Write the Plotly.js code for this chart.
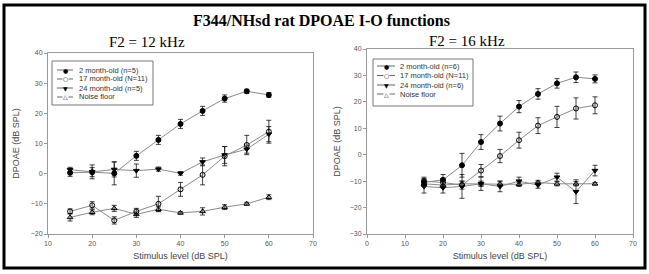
<!DOCTYPE html>
<html>
<head>
<meta charset="utf-8">
<script src="https://cdn.plot.ly/plotly-3.0.1.min.js"></script>
<style>html,body{margin:0;padding:0;background:#fff;}#chart{width:649px;height:274px;}</style>
</head>
<body>
<div id="chart"></div>
<script>
// ---------- DATA ----------
const levels = [15, 20, 25, 30, 35, 40, 45, 50, 55, 60];

// F2 = 12 kHz
const m2_12      = [0.3, 0.5, 0.1, 5.9, 11.2, 16.5, 20.8, 24.9, 27.3, 26.1];
const m2_12_err  = [1.2, 1.5, 3.8, 1.5, 1.5, 1.5, 1.5, 1.2, 0.7, 0.8];
const m17_12     = [-12.5, -10.5, -15.5, -12.5, -10.0, -5.2, -0.4, 5.8, 9.5, 13.9];
const m17_12_err = [0.8, 1.2, 1.2, 1.0, 2.5, 2.3, 3.3, 3.2, 3.2, 3.8];
const m24_12     = [1.3, 0.6, 1.4, 1.0, 1.5, 0.1, 3.9, 6.2, 8.1, 13.1];
const m24_12_err = [0.8, 2.3, 2.5, 2.2, 0.7, 0.6, 1.3, 2.8, 1.3, 2.5];
const nf_12      = [-14.5, -12.8, -11.5, -13.5, -11.8, -13.0, -12.5, -11.1, -10.0, -7.8];
const nf_12_err  = [1.2, 0.8, 1.0, 1.0, 0.8, 0.4, 1.2, 0.8, 0.5, 0.8];

// F2 = 16 kHz
const m2_16      = [-10.5, -9.5, -4.0, 4.8, 11.8, 18.2, 23.0, 27.0, 29.3, 28.7];
const m2_16_err  = [1.5, 2.0, 4.5, 2.8, 2.8, 2.3, 2.0, 1.8, 2.0, 1.5];
const m17_16     = [-10.0, -10.5, -11.5, -6.0, -0.5, 5.5, 11.0, 14.3, 17.5, 18.7];
const m17_16_err = [1.5, 1.5, 1.5, 2.3, 2.5, 3.0, 3.0, 4.0, 4.0, 3.2];
const m24_16     = [-12.0, -12.5, -12.0, -11.0, -12.0, -10.0, -11.5, -8.5, -14.0, -6.0];
const m24_16_err = [2.5, 2.0, 4.5, 2.5, 2.0, 1.5, 1.2, 1.5, 4.5, 2.0];
const nf_16      = [-11.0, -11.5, -11.0, -11.0, -11.0, -11.2, -10.5, -11.0, -11.0, -11.0];
const nf_16_err  = [1.0, 1.0, 1.0, 1.0, 1.0, 0.8, 0.8, 0.8, 0.8, 0.5];

const legend12 = ["2 month-old (n=5)", "17 month-old (N=11)", "24 month-old (n=5)", "Noise floor"];
const legend16 = ["2 month-old (n=6)", "17 month-old (N=11)", "24 month-old (n=6)", "Noise floor"];

const mainTitle = "F344/NHsd rat DPOAE I-O functions";
const panelTitles = ["F2 = 12 kHz", "F2 = 16 kHz"];
const xTitle = "Stimulus level (dB SPL)";
const yTitle = "DPOAE (dB SPL)";

// ---------- STYLE ----------
const W = 649, H = 274;
const px = x => x / W;
const py = y => 1 - y / H;
const styles = [
  {symbol: 'circle', glyph: '\u25CF'},
  {symbol: 'circle-open', glyph: '\u25CB'},
  {symbol: 'triangle-down', glyph: '\u25BC'},
  {symbol: 'triangle-up-open', glyph: '\u25B3'}
];

function mk(y, err, s, xa, ya) {
  return {
    x: levels, y: y, xaxis: xa, yaxis: ya, type: 'scatter', mode: 'lines+markers',
    showlegend: false,
    line: {color: '#8a8a8a', width: 1},
    marker: {symbol: s.symbol, size: 5, color: '#000', line: {color: '#000', width: 1}},
    error_y: {type: 'data', array: err, visible: true, color: '#111', thickness: 0.8, width: 2.5}
  };
}

const traces = [
  mk(nf_12, nf_12_err, styles[3], 'x', 'y'),
  mk(m24_12, m24_12_err, styles[2], 'x', 'y'),
  mk(m17_12, m17_12_err, styles[1], 'x', 'y'),
  mk(m2_12, m2_12_err, styles[0], 'x', 'y'),
  mk(nf_16, nf_16_err, styles[3], 'x2', 'y2'),
  mk(m24_16, m24_16_err, styles[2], 'x2', 'y2'),
  mk(m17_16, m17_16_err, styles[1], 'x2', 'y2'),
  mk(m2_16, m2_16_err, styles[0], 'x2', 'y2')
];

const tickFont = {family: 'Liberation Sans, Arial, sans-serif', size: 7, color: '#555'};
const titleFont = {family: 'Liberation Sans, Arial, sans-serif', size: 9, color: '#444'};

function xax(domain, range, dtick, anchor) {
  return {domain: domain, range: range, dtick: dtick, tick0: 0, showgrid: false, zeroline: false, anchor: anchor,
    showline: true, linecolor: '#999', linewidth: 1, mirror: true,
    ticks: 'outside', ticklen: 3, tickcolor: '#999', tickfont: tickFont,
    title: {text: xTitle, font: titleFont, standoff: 6}, automargin: false, fixedrange: true};
}
function yax(domain, range, anchor, standoff) {
  return {domain: domain, range: range, dtick: 10, showgrid: false, zeroline: false, anchor: anchor,
    showline: true, linecolor: '#999', linewidth: 1, mirror: true,
    ticks: 'outside', ticklen: 3, tickcolor: '#999', tickfont: tickFont,
    title: {text: yTitle, font: titleFont, standoff: standoff}, automargin: false, fixedrange: true};
}

const serif = 'Liberation Serif, Times New Roman, serif';
const shapes = [
  {type: 'rect', xref: 'paper', yref: 'paper', x0: px(4), x1: px(645), y0: py(268), y1: py(5),
   line: {color: '#000', width: 3}}
];
const annotations = [
  {text: '<b>' + mainTitle + '</b>', xref: 'paper', yref: 'paper', x: px(321), y: py(20),
   xanchor: 'center', yanchor: 'middle', showarrow: false, font: {family: serif, size: 16, color: '#000'}},
  {text: panelTitles[0], xref: 'paper', yref: 'paper', x: px(147), y: py(42),
   xanchor: 'center', yanchor: 'middle', showarrow: false, font: {family: serif, size: 15, color: '#000'}},
  {text: panelTitles[1], xref: 'paper', yref: 'paper', x: px(467), y: py(41),
   xanchor: 'center', yanchor: 'middle', showarrow: false, font: {family: serif, size: 15, color: '#000'}}
];

// manual legends (layout positions only)
function addLegend(labels, box, rows, lineX0, lineX1, textX) {
  shapes.push({type: 'rect', xref: 'paper', yref: 'paper', x0: px(box[0]), x1: px(box[1]),
    y0: py(box[3]), y1: py(box[2]), line: {color: '#777', width: 1}, fillcolor: '#fff'});
  labels.forEach((lab, i) => {
    const yy = rows[i];
    shapes.push({type: 'line', xref: 'paper', yref: 'paper', x0: px(lineX0), x1: px(lineX1),
      y0: py(yy), y1: py(yy), line: {color: '#666', width: 1}});
    annotations.push({text: styles[i].glyph, xref: 'paper', yref: 'paper', x: px((lineX0 + lineX1) / 2), y: py(yy),
      showarrow: false, font: {family: 'DejaVu Sans', size: 6, color: '#000'},
      xanchor: 'center', yanchor: 'middle', bgcolor: i % 2 ? '#fff' : 'rgba(0,0,0,0)', borderpad: 0});
    annotations.push({text: lab, xref: 'paper', yref: 'paper', x: px(textX), y: py(yy),
      showarrow: false, xanchor: 'left', yanchor: 'middle',
      font: {family: 'Liberation Sans, Arial, sans-serif', size: 7.5, color: '#333'}});
  });
}
addLegend(legend12, [52, 153, 61, 105], [70, 79, 88, 97], 57, 73, 77);
addLegend(legend16, [373, 473, 59, 106], [66, 75.5, 85, 94], 377, 395, 398);

const layout = {
  width: W, height: H, margin: {l: 0, r: 0, t: 0, b: 0},
  paper_bgcolor: '#fff', plot_bgcolor: '#fff', showlegend: false,
  xaxis: xax([px(48), px(313)], [10, 70], 10, 'y'),
  yaxis: yax([py(234), py(53)], [-20, 40], 'x', 9),
  xaxis2: xax([px(367), px(633)], [0, 70], 10, 'y2'),
  yaxis2: yax([py(234), py(49)], [-30, 40], 'x2', 7),
  shapes: shapes, annotations: annotations
};

Plotly.newPlot('chart', traces, layout, {displayModeBar: false, staticPlot: true});
</script>
</body>
</html>
